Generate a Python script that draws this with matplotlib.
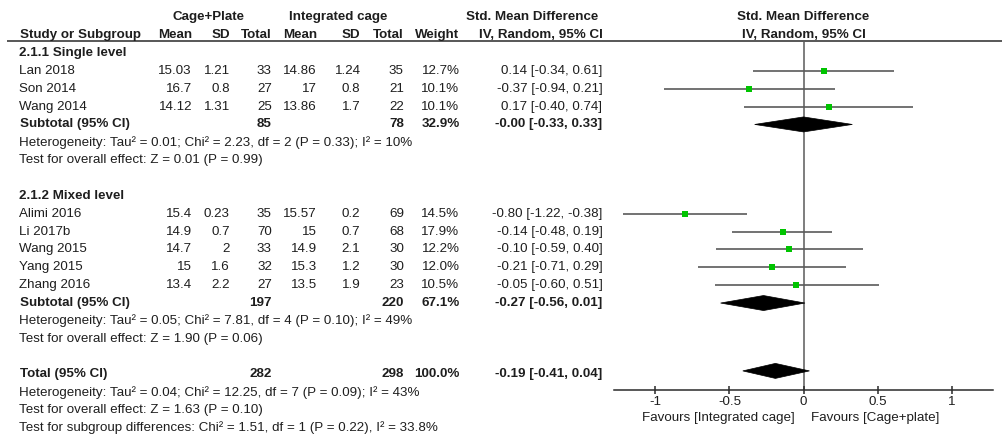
import matplotlib
matplotlib.use("Agg")
import matplotlib.pyplot as plt
from matplotlib.patches import Polygon

# ---- study-level data -------------------------------------------------------
studies = ["Lan 2018", "Son 2014", "Wang 2014",
           "Alimi 2016", "Li 2017b", "Wang 2015", "Yang 2015", "Zhang 2016"]
study_group = [0, 0, 0, 1, 1, 1, 1, 1]
mean_plate = [15.03, 16.7, 14.12, 15.4, 14.9, 14.7, 15, 13.4]
sd_plate = [1.21, 0.8, 1.31, 0.23, 0.7, 2, 1.6, 2.2]
n_plate = [33, 27, 25, 35, 70, 33, 32, 27]
mean_cage = [14.86, 17, 13.86, 15.57, 15, 14.9, 15.3, 13.5]
sd_cage = [1.24, 0.8, 1.7, 0.2, 0.7, 2.1, 1.2, 1.9]
n_cage = [35, 21, 22, 69, 68, 30, 30, 23]
weight = [12.7, 10.1, 10.1, 14.5, 17.9, 12.2, 12.0, 10.5]
smd = [0.14, -0.37, 0.17, -0.80, -0.14, -0.10, -0.21, -0.05]
ci_low = [-0.34, -0.94, -0.40, -1.22, -0.48, -0.59, -0.71, -0.60]
ci_high = [0.61, 0.21, 0.74, -0.38, 0.19, 0.40, 0.29, 0.51]

# ---- subgroup summaries -----------------------------------------------------
subgroups = ["2.1.1 Single level", "2.1.2 Mixed level"]
sub_n_plate = [85, 197]
sub_n_cage = [78, 220]
sub_weight = [32.9, 67.1]
sub_smd = [-0.00, -0.27]
sub_low = [-0.33, -0.56]
sub_high = [0.33, 0.01]
sub_het = ["Heterogeneity: Tau² = 0.01; Chi² = 2.23, df = 2 (P = 0.33); I² = 10%",
           "Heterogeneity: Tau² = 0.05; Chi² = 7.81, df = 4 (P = 0.10); I² = 49%"]
sub_effect = ["Test for overall effect: Z = 0.01 (P = 0.99)",
              "Test for overall effect: Z = 1.90 (P = 0.06)"]

# ---- overall summary --------------------------------------------------------
total_n_plate = 282
total_n_cage = 298
total_weight = 100.0
total_smd = -0.19
total_low = -0.41
total_high = 0.04
total_notes = ["Heterogeneity: Tau² = 0.04; Chi² = 12.25, df = 7 (P = 0.09); I² = 43%",
               "Test for overall effect: Z = 1.63 (P = 0.10)",
               "Test for subgroup differences: Chi² = 1.51, df = 1 (P = 0.22), I² = 33.8%"]

axis_ticks = [-1, -0.5, 0, 0.5, 1]
axis_ticklabels = ["-1", "-0.5", "0", "0.5", "1"]
favours_left = "Favours [Integrated cage]"
favours_right = "Favours [Cage+plate]"

# ---- layout -----------------------------------------------------------------
W, H = 1003, 437
ROW0, PITCH = 53.0, 17.86          # pixel centre of first body row, row pitch
FONT = "Liberation Sans"
FS = 9.6
TXT = "#1e1e1e"
GREEN = "#00c400"

plt.rcParams["font.family"] = [FONT, "DejaVu Sans"]

fig = plt.figure(figsize=(W / 100, H / 100), dpi=100)
fig.patch.set_facecolor("white")


def px_to_row(py):
    return (py - ROW0) / PITCH


# Table axes: x in pixels, y in row units
tab = fig.add_axes([0, 0, 1, 1])
tab.set_xlim(0, W)
tab.set_ylim(px_to_row(H), px_to_row(0))
tab.axis("off")

# Forest axes: x in SMD units, y in row units (shared row scale)
f_left, f_right, f_top, f_bottom = 614, 993, 40.5, 390
forest = fig.add_axes([f_left / W, 1 - f_bottom / H,
                       (f_right - f_left) / W, (f_bottom - f_top) / H])
forest.set_xlim(-1.28, 1.28)
forest.set_ylim(px_to_row(f_bottom), px_to_row(f_top))
forest.patch.set_alpha(0)

# column right edges (pixels)
X_NAME = 19
X_MEAN1, X_SD1, X_N1 = 192, 230, 272
X_MEAN2, X_SD2, X_N2 = 317, 360.5, 404
X_W, X_CI = 459.5, 602.5


def put(x, row, s, ha="right", bold=False):
    tab.text(x, row, s, ha=ha, va="center", fontsize=FS, color=TXT,
             fontweight="bold" if bold else "normal")


def ci_text(e, l, h):
    return f"{e:.2f} [{l:.2f}, {h:.2f}]"


# headers
put(208.5, -2, "Cage+Plate", ha="center", bold=True)
put(338, -2, "Integrated cage", ha="center", bold=True)
put(532, -2, "Std. Mean Difference", ha="center", bold=True)
put(803.5, -2, "Std. Mean Difference", ha="center", bold=True)
put(X_NAME + 1, -1, "Study or Subgroup", ha="left", bold=True)
for x, s in [(X_MEAN1, "Mean"), (X_SD1, "SD"), (X_N1, "Total"),
             (X_MEAN2, "Mean"), (X_SD2, "SD"), (X_N2, "Total"),
             (X_W, "Weight"), (X_CI, "IV, Random, 95% CI")]:
    put(x, -1, s, bold=True)
put(803.5, -1, "IV, Random, 95% CI", ha="center", bold=True)
tab.hlines(px_to_row(40.5), 7, W, color="#2a2a2a", lw=1.1)

# body
row = 0
for g, name in enumerate(subgroups):
    put(X_NAME, row, name, ha="left", bold=True)
    row += 1
    for i in [k for k, sg in enumerate(study_group) if sg == g]:
        put(X_NAME, row, studies[i], ha="left")
        put(X_MEAN1, row, f"{mean_plate[i]:g}")
        put(X_SD1, row, f"{sd_plate[i]:g}")
        put(X_N1, row, f"{n_plate[i]}")
        put(X_MEAN2, row, f"{mean_cage[i]:g}")
        put(X_SD2, row, f"{sd_cage[i]:g}")
        put(X_N2, row, f"{n_cage[i]}")
        put(X_W, row, f"{weight[i]:.1f}%")
        put(X_CI, row, ci_text(smd[i], ci_low[i], ci_high[i]))
        forest.hlines(row, ci_low[i], ci_high[i], color="#5a5a5a", lw=1.2, zorder=2)
        side = 1.6 * weight[i] ** 0.5 * 0.72
        forest.plot(smd[i], row, marker="s", ms=side, color=GREEN,
                    mec=GREEN, mew=0, zorder=3)
        row += 1
    put(X_NAME + 1, row, "Subtotal (95% CI)", ha="left", bold=True)
    put(X_N1, row, f"{sub_n_plate[g]}", bold=True)
    put(X_N2, row, f"{sub_n_cage[g]}", bold=True)
    put(X_W, row, f"{sub_weight[g]:.1f}%", bold=True)
    put(X_CI, row, ci_text(sub_smd[g], sub_low[g], sub_high[g]), bold=True)
    forest.add_patch(Polygon([(sub_low[g], row), (sub_smd[g], row - 0.42),
                              (sub_high[g], row), (sub_smd[g], row + 0.42)],
                             closed=True, fc="black", ec="black", lw=0.5, zorder=4))
    row += 1
    put(X_NAME, row, sub_het[g], ha="left")
    row += 1
    put(X_NAME, row, sub_effect[g], ha="left")
    row += 2

# overall
put(X_NAME + 1, row, "Total (95% CI)", ha="left", bold=True)
put(X_N1, row, f"{total_n_plate}", bold=True)
put(X_N2, row, f"{total_n_cage}", bold=True)
put(X_W, row, f"{total_weight:.1f}%", bold=True)
put(X_CI, row, ci_text(total_smd, total_low, total_high), bold=True)
forest.add_patch(Polygon([(total_low, row - 0.2), (total_smd, row - 0.62),
                          (total_high, row - 0.2), (total_smd, row + 0.22)],
                         closed=True, fc="black", ec="black", lw=0.5, zorder=4))
for note in total_notes:
    row += 1
    put(X_NAME, row, note, ha="left")

# forest axis styling
forest.axvline(0, color="#5a5a5a", lw=1.1, zorder=1)
for s in ["top", "left", "right"]:
    forest.spines[s].set_visible(False)
forest.spines["bottom"].set_color("#2a2a2a")
forest.spines["bottom"].set_linewidth(1.1)
forest.set_yticks([])
forest.set_xticks(axis_ticks)
forest.set_xticklabels(axis_ticklabels)
forest.tick_params(axis="x", direction="inout", length=6, width=1.1,
                   color="#2a2a2a", labelsize=FS, labelcolor=TXT, pad=1)

# favours labels under the axis
put(795, px_to_row(418), favours_left, ha="right")
put(811, px_to_row(418), favours_right, ha="left")

fig.savefig("out.png", dpi=100, facecolor="white")
